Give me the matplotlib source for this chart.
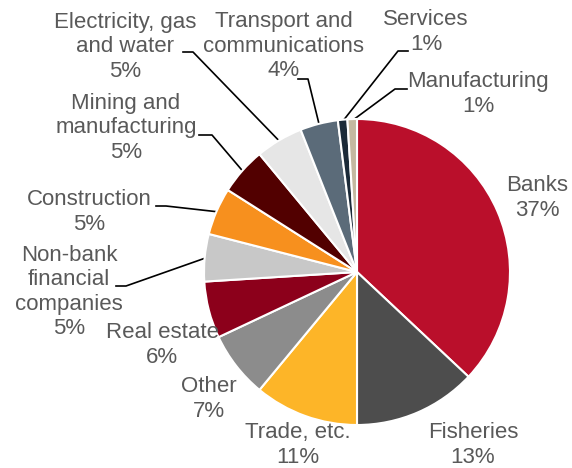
import numpy as np
import matplotlib.pyplot as plt

plt.rcParams["font.family"] = ["Liberation Sans", "DejaVu Sans"]

sectors = ["Banks", "Fisheries", "Trade, etc.", "Other", "Real estate",
           "Non-bank\nfinancial\ncompanies", "Construction",
           "Mining and\nmanufacturing", "Electricity, gas\nand water",
           "Transport and\ncommunications", "Services", "Manufacturing"]
shares = [37, 13, 11, 7, 6, 5, 5, 5, 5, 4, 1, 1]
colors = ["#BA0F2B", "#4D4D4D", "#FDB528", "#8C8C8C", "#8C001B", "#C8C8C8",
          "#F7901E", "#520000", "#E6E6E6", "#5B6B79", "#1B2A38", "#C4B8A0"]

W, H = 572, 468
fig = plt.figure(figsize=(W / 100, H / 100), dpi=100)
ax = fig.add_axes([0, 0, 1, 1])

cx, cy, r = 357, H - 272, 153
wedges, _ = ax.pie(shares, colors=colors, startangle=90, counterclock=False,
                   center=(cx, cy), radius=r, frame=True,
                   wedgeprops=dict(edgecolor="white", linewidth=1.5))
ax.set_xlim(0, W)
ax.set_ylim(0, H)
ax.set_aspect("equal")
ax.axis("off")

# label centre (pixels from top-left); for leader lines also the text-side
# start point and the elbow before the line runs to the slice
labels = {
    0: ((537, 198), None),
    1: ((473, 445), None),
    2: ((298, 445), None),
    3: ((209, 399), None),
    4: ((162, 345), None),
    5: ((69, 292), [(116, 286), (126, 286)]),
    6: ((89, 212), [(156, 206), (166, 206)]),
    7: ((126, 128), [(199, 135), (212, 135)]),
    8: ((125, 47), [(183, 52), (193, 52)]),
    9: ((284, 46), [(298, 79), (308, 79)]),
    10: ((426, 32), [(408, 51), (398, 51)]),
    11: ((478, 94), [(407, 89), (395, 89)]),
}

for i, w in enumerate(wedges):
    (tx, ty), leader = labels[i]
    ax.text(tx, H - ty, f"{sectors[i]}\n{shares[i]}%", ha="center", va="center",
            fontsize=16, color="#595959", linespacing=1.2)
    if leader:
        mid = np.deg2rad((w.theta1 + w.theta2) / 2)
        tip = (cx + r * 0.99 * np.cos(mid), cy + r * 0.99 * np.sin(mid))
        xs = [leader[0][0], leader[1][0], tip[0]]
        ys = [H - leader[0][1], H - leader[1][1], tip[1]]
        ax.plot(xs, ys, color="black", linewidth=1.2, zorder=0.5)

fig.savefig("out.png", dpi=100)
